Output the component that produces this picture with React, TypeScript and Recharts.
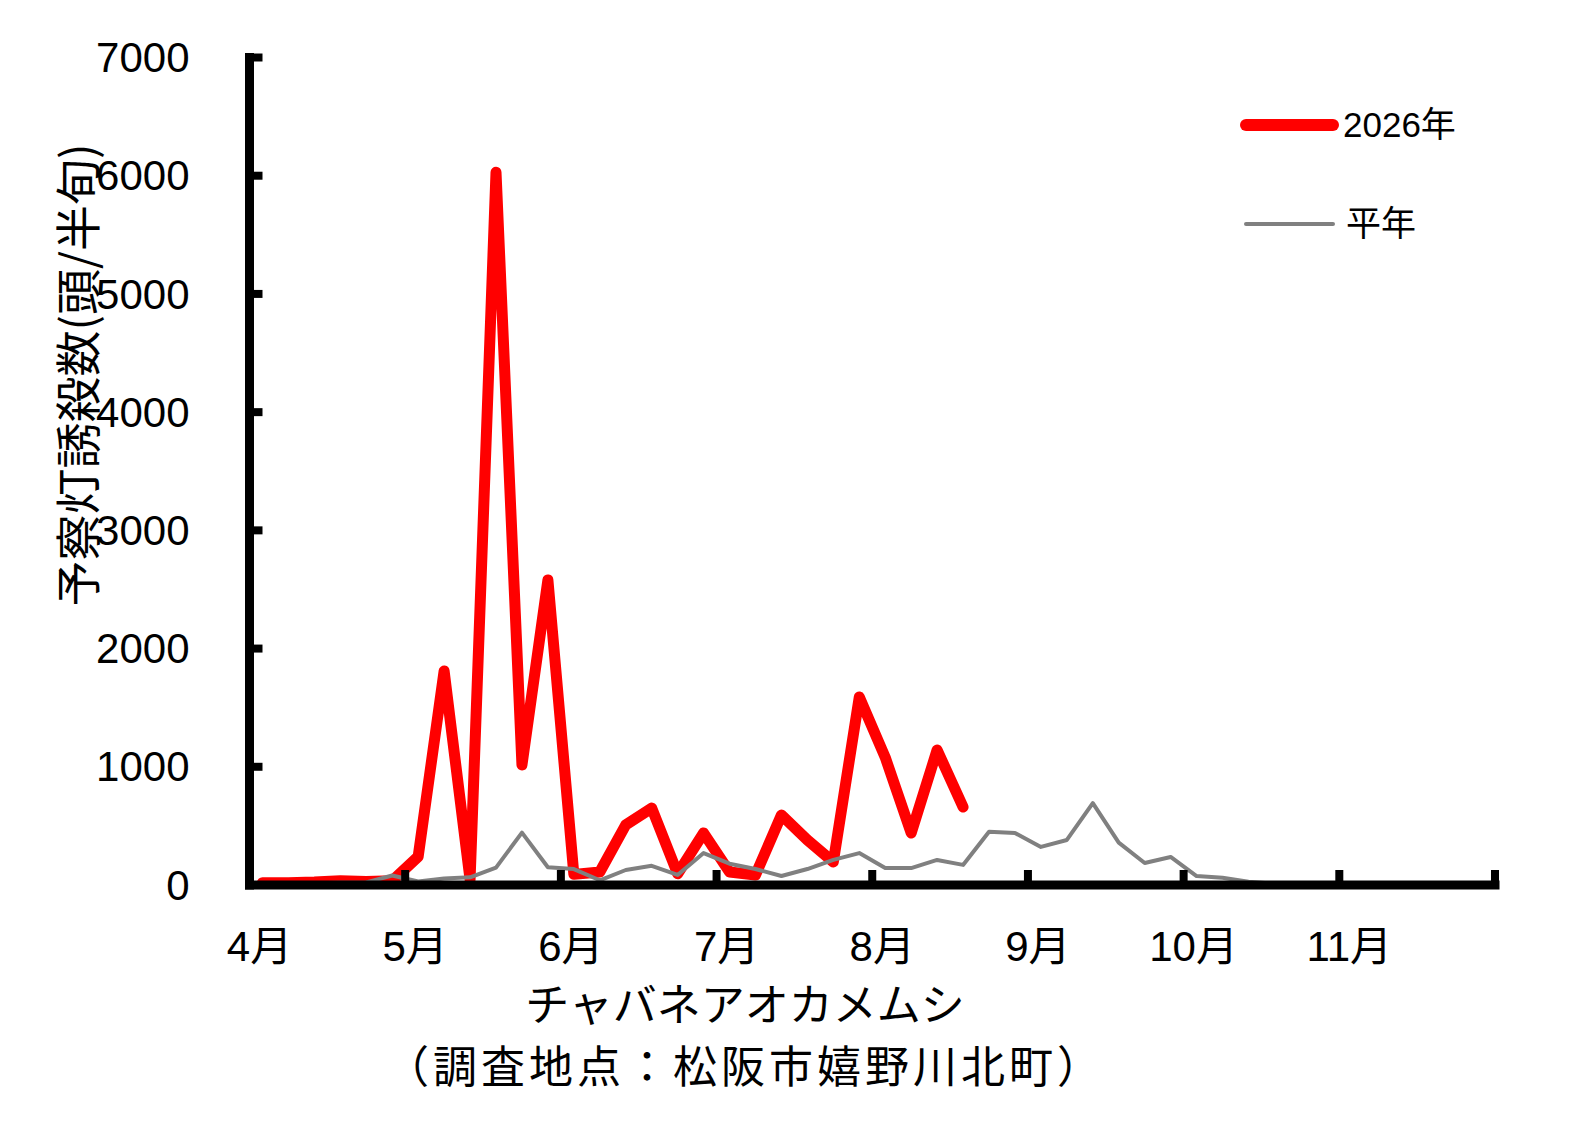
import React from "react";
import { ComposedChart, Line, XAxis, YAxis, Legend } from "recharts";

// ── Data ──────────────────────────────────────────────────────────────────────

// month labels, 6 半旬 per month
const MONTHS = ["4月", "5月", "6月", "7月", "8月", "9月", "10月", "11月"];
const PER_MONTH = 6;

// 2026年 counts (up to 8月第4半旬)
const Y2026 = [
  20, 20, 25, 35, 30, 35, 240, 1810, 45, 6030,
  1015, 2580, 90, 110, 508, 651, 95, 440, 110, 85,
  592, 381, 195, 1590, 1080, 440, 1142, 660,
];

// 平年 counts
const NORMAL = [
  5, 12, 15, 18, 22, 80, 30, 55, 65, 147,
  443, 150, 135, 40, 127, 162, 85, 270, 180, 135,
  76, 135, 212, 270, 143, 143, 212, 170, 451, 440,
  322, 381, 693, 358, 186, 237, 76, 62, 28, 11,
  5, 3, 2, 2, 1, 1, 1, 1,
];

const Y_TICKS = [0, 1000, 2000, 3000, 4000, 5000, 6000, 7000];

const SLOTS = MONTHS.length * PER_MONTH;
const MONTH_EDGES = Array.from({ length: MONTHS.length + 1 }, (_, m) => m * PER_MONTH);

const rows = Array.from({ length: SLOTS }, (_, i) => ({
  x: i + 0.5,
  y2026: i < Y2026.length ? Y2026[i] : null,
  normal: NORMAL[i],
}));

// ── Styling ───────────────────────────────────────────────────────────────────

const FONT = "'Liberation Sans', Arial, 'Noto Sans CJK JP', sans-serif";
const JP_FONT = "'Noto Sans CJK JP', 'Noto Sans', sans-serif";
const Y_LABEL_GAP = 60;

const SERIES = {
  y2026: { color: "#FF0000", width: 11, legendWidth: 12, textX: 113 },
  normal: { color: "#808080", width: 4, legendWidth: 4, textX: 116 },
};

// ── Ticks ─────────────────────────────────────────────────────────────────────

function MonthTick({ x, y, payload }: any) {
  const idx = payload.value / PER_MONTH;
  return (
    <g>
      {payload.value > 0 && (
        <line x1={x} x2={x} y1={y} y2={y - 15} stroke="#000" strokeWidth={8} />
      )}
      {idx < MONTHS.length && (
        <text
          x={x + 10}
          y={y + 61}
          dy="0.35em"
          textAnchor="middle"
          fontSize={42}
          fontFamily={FONT}
          fill="#000"
        >
          {MONTHS[idx]}
        </text>
      )}
    </g>
  );
}

function CountTick({ x, y, payload }: any) {
  const ax = x + Y_LABEL_GAP;
  return (
    <g>
      {payload.value > 0 && (
        <line x1={ax} x2={ax + 13} y1={y} y2={y} stroke="#000" strokeWidth={8} />
      )}
      <text
        x={x}
        y={y}
        dy="0.35em"
        textAnchor="end"
        fontSize={42}
        fontFamily={FONT}
        fill="#000"
      >
        {payload.value}
      </text>
    </g>
  );
}

function LegendBox({ payload }: any) {
  return (
    <svg width={240} height={160}>
      {(payload ?? []).map((p: any, k: number) => {
        const s = SERIES[p.dataKey as keyof typeof SERIES];
        const cy = 35 + k * 99;
        return (
          <g key={p.dataKey}>
            <line
              x1={16}
              x2={103}
              y1={cy}
              y2={cy}
              stroke={s.color}
              strokeWidth={s.legendWidth}
              strokeLinecap="round"
            />
            <text
              x={s.textX}
              y={cy}
              dy="0.35em"
              fontSize={35}
              fontFamily={FONT}
              fill="#000"
            >
              {p.value}
            </text>
          </g>
        );
      })}
    </svg>
  );
}

// ── Component ─────────────────────────────────────────────────────────────────

export default function App() {
  return (
    <div style={{ position: "relative", width: 1568, height: 1115, fontFamily: JP_FONT }}>
      <ComposedChart
        width={1568}
        height={1115}
        data={rows}
        margin={{ top: 49.5, right: 81, bottom: 138, left: 41.5 }}
      >
        <XAxis
          dataKey="x"
          type="number"
          domain={[0, SLOTS]}
          ticks={MONTH_EDGES}
          interval={0}
          height={100}
          tickSize={0}
          tickMargin={0}
          tickLine={false}
          axisLine={{ stroke: "#000", strokeWidth: 9, strokeLinecap: "square" }}
          tick={<MonthTick />}
        />
        <YAxis
          type="number"
          domain={[0, 7000]}
          ticks={Y_TICKS}
          interval={0}
          width={200}
          tickSize={0}
          tickMargin={Y_LABEL_GAP}
          tickLine={false}
          axisLine={{ stroke: "#000", strokeWidth: 9, strokeLinecap: "square" }}
          tick={<CountTick />}
        />
        <Legend
          layout="vertical"
          align="center"
          verticalAlign="middle"
          content={<LegendBox />}
          wrapperStyle={{ left: 1222, top: 82, width: 240, height: 160 }}
        />
        <Line
          dataKey="y2026"
          name="2026年"
          type="linear"
          stroke={SERIES.y2026.color}
          strokeWidth={SERIES.y2026.width}
          strokeLinecap="round"
          strokeLinejoin="round"
          dot={false}
          activeDot={false}
          isAnimationActive={false}
        />
        <Line
          dataKey="normal"
          name="平年"
          type="linear"
          stroke={SERIES.normal.color}
          strokeWidth={SERIES.normal.width}
          strokeLinecap="round"
          strokeLinejoin="round"
          dot={false}
          activeDot={false}
          isAnimationActive={false}
        />
      </ComposedChart>

      <div
        style={{
          position: "absolute",
          left: 67,
          top: 367,
          transform: "translate(-50%, -50%) rotate(-90deg)",
          fontSize: 46,
          whiteSpace: "nowrap",
          lineHeight: 1,
        }}
      >
        予察灯誘殺数(頭/半旬)
      </div>
      <div
        style={{
          position: "absolute",
          left: 737,
          top: 994,
          transform: "translate(-50%, -50%)",
          fontSize: 44,
          whiteSpace: "nowrap",
          lineHeight: 1,
        }}
      >
        チャバネアオカメムシ
      </div>
      <div
        style={{
          position: "absolute",
          left: 737,
          top: 1056,
          transform: "translate(-50%, -50%)",
          fontSize: 44,
          letterSpacing: 4,
          whiteSpace: "nowrap",
          lineHeight: 1,
        }}
      >
        （調査地点：松阪市嬉野川北町）
      </div>
    </div>
  );
}
